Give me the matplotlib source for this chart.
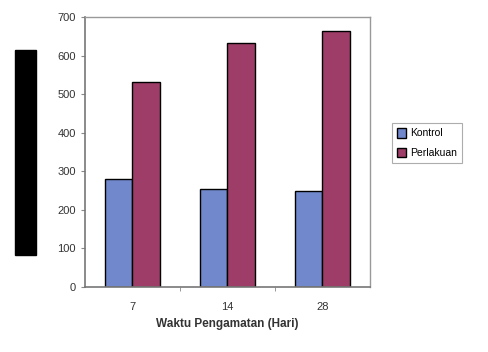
import matplotlib
matplotlib.use('agg')
from matplotlib import pyplot as plt
from matplotlib.patches import Rectangle
import numpy as np

# chart data
days = ['7', '14', '28']
kontrol = [280, 253, 248]
perlakuan = [531, 633, 664]

plt.rcParams['font.family'] = ['Liberation Sans', 'DejaVu Sans']

fig = plt.figure(figsize=(4.89, 3.52), dpi=100)
ax = fig.add_axes([85 / 489, 1 - 287 / 352, 285 / 489, 270 / 352])

x = np.arange(len(days))
w = 0.285
ax.bar(x - w / 2, kontrol, w, color='#7189CC', edgecolor='black', linewidth=1.0, label='Kontrol')
ax.bar(x + w / 2, perlakuan, w, color='#9E3D68', edgecolor='black', linewidth=1.0, label='Perlakuan')

ax.set_xlim(-0.5, len(days) - 0.5)
ax.set_ylim(0, 700)
ax.set_yticks(range(0, 701, 100))
ax.set_xticks(x)
ax.set_xticklabels(days)
ax.set_xticks([0.5, 1.5], minor=True)
ax.tick_params(axis='x', which='major', length=0, pad=11, labelsize=8, colors='#333333')
ax.tick_params(axis='x', which='minor', length=3, direction='out', color='#888888')
ax.tick_params(axis='y', length=3, labelsize=8, colors='#333333', color='#888888')

for s in ['top', 'right']:
    ax.spines[s].set_color('#999999')
    ax.spines[s].set_linewidth(1.0)
for s in ['left', 'bottom']:
    ax.spines[s].set_color('#777777')
    ax.spines[s].set_linewidth(1.2)

ax.set_xlabel('Waktu Pengamatan (Hari)', fontsize=8.5, fontweight='bold', color='#333333', labelpad=4)

leg = fig.legend(loc='upper left', bbox_to_anchor=(392 / 489, 1 - 123 / 352), fontsize=7.5,
                 frameon=True, fancybox=False, edgecolor='#999999', handlelength=0.8,
                 handleheight=1.0, handletextpad=0.4, borderpad=0.5, labelspacing=0.9,
                 borderaxespad=0)
leg.get_frame().set_linewidth(0.8)

# redacted y label block
fig.patches.append(Rectangle((15 / 489, 1 - 255 / 352), 21 / 489, 205 / 352,
                             transform=fig.transFigure, color='black', zorder=5))

fig.savefig('out.png', dpi=100)
plt.close(fig)
